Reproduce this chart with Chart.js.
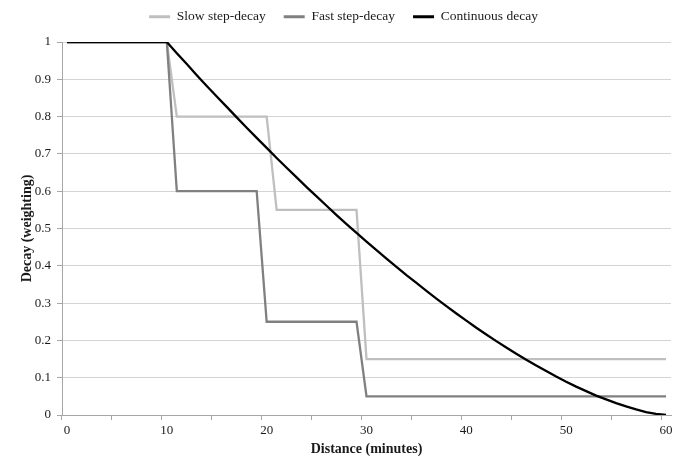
<!DOCTYPE html>
<html>
<head>
<meta charset="utf-8">
<script src="https://cdn.jsdelivr.net/npm/chart.js@4"></script>
<style>
  html, body { margin: 0; padding: 0; background: #fff; }
  #contenedor { width: 685px; height: 472px; }
</style>
</head>
<body>
<div id="contenedor"><canvas id="grafica-decay"></canvas></div>
<script>
// categorias del eje x (minutos 0..60)
const distancias = Array.from({length: 61}, (_, i) => String(i));

// series
const slowStep = [
  1, 1, 1, 1, 1, 1, 1, 1, 1, 1, 1,
  0.8, 0.8, 0.8, 0.8, 0.8, 0.8, 0.8, 0.8, 0.8, 0.8,
  0.55, 0.55, 0.55, 0.55, 0.55, 0.55, 0.55, 0.55, 0.55,
  0.15, 0.15, 0.15, 0.15, 0.15, 0.15, 0.15, 0.15, 0.15, 0.15,
  0.15, 0.15, 0.15, 0.15, 0.15, 0.15, 0.15, 0.15, 0.15, 0.15,
  0.15, 0.15, 0.15, 0.15, 0.15, 0.15, 0.15, 0.15, 0.15, 0.15, 0.15
];

const fastStep = [
  1, 1, 1, 1, 1, 1, 1, 1, 1, 1, 1,
  0.6, 0.6, 0.6, 0.6, 0.6, 0.6, 0.6, 0.6, 0.6,
  0.25, 0.25, 0.25, 0.25, 0.25, 0.25, 0.25, 0.25, 0.25, 0.25,
  0.05, 0.05, 0.05, 0.05, 0.05, 0.05, 0.05, 0.05, 0.05, 0.05,
  0.05, 0.05, 0.05, 0.05, 0.05, 0.05, 0.05, 0.05, 0.05, 0.05,
  0.05, 0.05, 0.05, 0.05, 0.05, 0.05, 0.05, 0.05, 0.05, 0.05, 0.05
];

const continuous = [
  1, 1, 1, 1, 1, 1, 1, 1, 1, 1, 1,
  0.970, 0.941, 0.911, 0.882, 0.854, 0.826, 0.798, 0.770, 0.743, 0.716,
  0.689, 0.663, 0.637, 0.611, 0.586, 0.561, 0.536, 0.512, 0.488, 0.465,
  0.442, 0.419, 0.397, 0.375, 0.354, 0.333, 0.312, 0.292, 0.272, 0.253,
  0.234, 0.216, 0.198, 0.181, 0.164, 0.148, 0.133, 0.118, 0.103, 0.089,
  0.076, 0.064, 0.052, 0.042, 0.032, 0.023, 0.015, 0.008, 0.003, 0
];

const fuente = "'Liberation Serif', 'Times New Roman', serif";
const colorEje = '#a6a6a6';
const colorRejilla = '#d4d4d4';

Chart.defaults.font.family = fuente;
Chart.defaults.color = '#1a1a1a';

// ajustar alto de la leyenda (area del grafico empieza en y=42) y centrarla en todo el ancho
const ajusteLeyenda = {
  id: 'ajusteLeyenda',
  beforeInit(chart) {
    const fitOriginal = chart.legend.fit;
    chart.legend.fit = function () {
      fitOriginal.bind(chart.legend)();
      this.height = 50;
    };
  },
  beforeDraw(chart) {
    chart.legend.left = 8;
    chart.legend.right = chart.width - 6;
  }
};

const serie = (label, data, color, order) => ({
  label: label,
  data: data,
  borderColor: color,
  backgroundColor: color,
  borderWidth: 2.3,
  pointRadius: 0,
  tension: 0,
  order: order
});

new Chart(document.getElementById('grafica-decay'), {
  type: 'line',
  data: {
    labels: distancias,
    datasets: [
      serie('Slow step-decay', slowStep, '#bfbfbf', 3),
      serie('Fast step-decay', fastStep, '#808080', 2),
      serie('Continuous decay', continuous, '#000000', 1)
    ]
  },
  plugins: [ajusteLeyenda],
  options: {
    responsive: true,
    maintainAspectRatio: false,
    animation: false,
    layout: { padding: { top: -8, right: 14, bottom: 0, left: 0 } },
    plugins: {
      tooltip: { enabled: false },
      legend: {
        position: 'top',
        labels: {
          boxWidth: 21,
          boxHeight: 3,
          padding: 18,
          font: { size: 13.5 },
          sort: (a, b) => a.datasetIndex - b.datasetIndex,
          generateLabels: chart => Chart.defaults.plugins.legend.labels.generateLabels(chart)
            .map(l => ({...l, lineWidth: 0}))
        }
      }
    },
    scales: {
      x: {
        type: 'category',
        offset: true,
        afterFit: scale => { scale.height = 57; },
        grid: {
          offset: true,
          drawOnChartArea: false,
          tickLength: 5,
          tickColor: ctx => ctx.index % 5 === 0 ? colorEje : 'rgba(0,0,0,0)'
        },
        border: { color: colorEje },
        ticks: {
          autoSkip: false,
          maxRotation: 0,
          padding: 3,
          font: { size: 13 },
          callback: (valor, i) => i % 10 === 0 ? distancias[i] : ''
        },
        title: {
          display: true,
          text: 'Distance (minutes)',
          font: { size: 14, weight: 'bold' },
          padding: { top: 0, bottom: 14 }
        }
      },
      y: {
        min: 0,
        max: 1,
        afterFit: scale => { scale.width = 62; },
        grid: {
          color: colorRejilla,
          tickColor: colorEje,
          tickLength: 5
        },
        border: { color: colorEje },
        ticks: {
          stepSize: 0.1,
          padding: 6,
          font: { size: 13 },
          callback: v => String(+v.toFixed(1))
        },
        title: {
          display: true,
          text: 'Decay (weighting)',
          font: { size: 14, weight: 'bold' },
          padding: { top: 19, bottom: 0 }
        }
      }
    }
  }
});
</script>
</body>
</html>
